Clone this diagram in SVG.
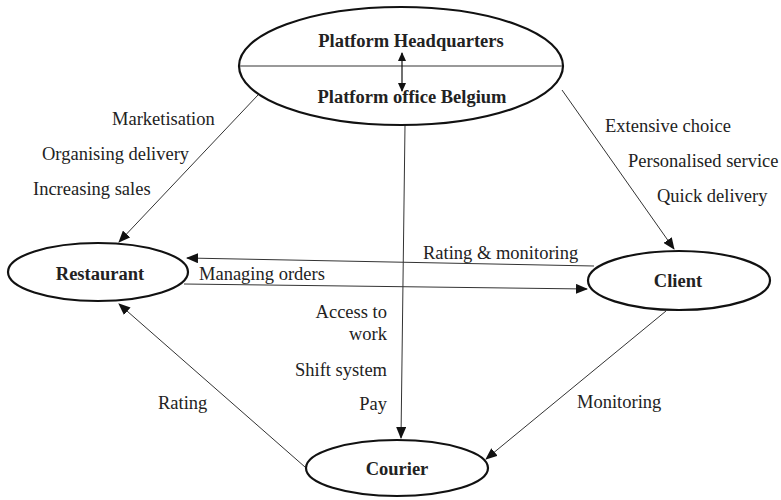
<svg xmlns="http://www.w3.org/2000/svg" width="781" height="500" viewBox="0 0 781 500">
<style>
.node{fill:#fff;stroke:#111;stroke-width:2.2}
.bt{font-weight:bold;font-size:18.5px;fill:#222;text-anchor:middle}
.lb{font-size:18.5px;fill:#222}
.c{stroke:#333;stroke-width:1;fill:none;marker-end:url(#ah)}
</style>
<defs>
<marker id="ah" markerWidth="12" markerHeight="10" refX="11" refY="5" orient="auto" markerUnits="userSpaceOnUse">
<path d="M0,0 L12,5 L0,10 Z" fill="#111"/>
</marker>
<marker id="sm" markerWidth="9" markerHeight="8" refX="8" refY="4" orient="auto-start-reverse" markerUnits="userSpaceOnUse">
<path d="M0,0 L9,4 L0,8 Z" fill="#111"/>
</marker>
</defs>
<rect width="781" height="500" fill="#fff"/>
<g id="connectors">
<line class="c" x1="258" y1="95" x2="119" y2="242"/>
<line class="c" x1="562" y1="90" x2="674" y2="249"/>
<line class="c" x1="405" y1="125" x2="401" y2="438"/>
<line class="c" x1="594" y1="266" x2="187" y2="258"/>
<line class="c" x1="184" y1="284" x2="587" y2="289"/>
<line class="c" x1="666" y1="311" x2="486" y2="459"/>
<line class="c" x1="305" y1="467" x2="119" y2="304"/>
</g>
<g font-family="'Liberation Serif', 'Times New Roman', 'DejaVu Serif', serif">
<g id="platform">
<ellipse class="node" cx="401" cy="66" rx="162" ry="59"/>
<line x1="240" y1="66" x2="562" y2="66" stroke="#777" stroke-width="1.5"/>
<line x1="402" y1="53" x2="402" y2="91" stroke="#111" stroke-width="1.2" marker-start="url(#sm)" marker-end="url(#sm)"/>
<text class="bt" x="411" y="47">Platform Headquarters</text>
<text class="bt" x="412" y="103">Platform office Belgium</text>
</g>
<g id="restaurant">
<ellipse class="node" cx="98" cy="272" rx="90" ry="29"/>
<text class="bt" x="100" y="280">Restaurant</text>
</g>
<g id="client">
<ellipse class="node" cx="679" cy="280.5" rx="91" ry="29.5"/>
<text class="bt" x="678" y="287">Client</text>
</g>
<g id="courier">
<ellipse class="node" cx="397" cy="468" rx="91" ry="28"/>
<text class="bt" x="397" y="475">Courier</text>
</g>
<g id="labels">
<text class="lb" x="112" y="125">Marketisation</text>
<text class="lb" x="42" y="160">Organising delivery</text>
<text class="lb" x="33" y="195">Increasing sales</text>
<text class="lb" x="605" y="132">Extensive choice</text>
<text class="lb" x="628" y="167">Personalised service</text>
<text class="lb" x="657" y="202">Quick delivery</text>
<text class="lb" x="423" y="259">Rating &amp; monitoring</text>
<text class="lb" x="199" y="280">Managing orders</text>
<text class="lb" x="387" y="318" text-anchor="end">Access to</text>
<text class="lb" x="387" y="340" text-anchor="end">work</text>
<text class="lb" x="387" y="376" text-anchor="end">Shift system</text>
<text class="lb" x="387" y="410" text-anchor="end">Pay</text>
<text class="lb" x="158" y="409">Rating</text>
<text class="lb" x="577" y="408">Monitoring</text>
</g>
</g>
</svg>
